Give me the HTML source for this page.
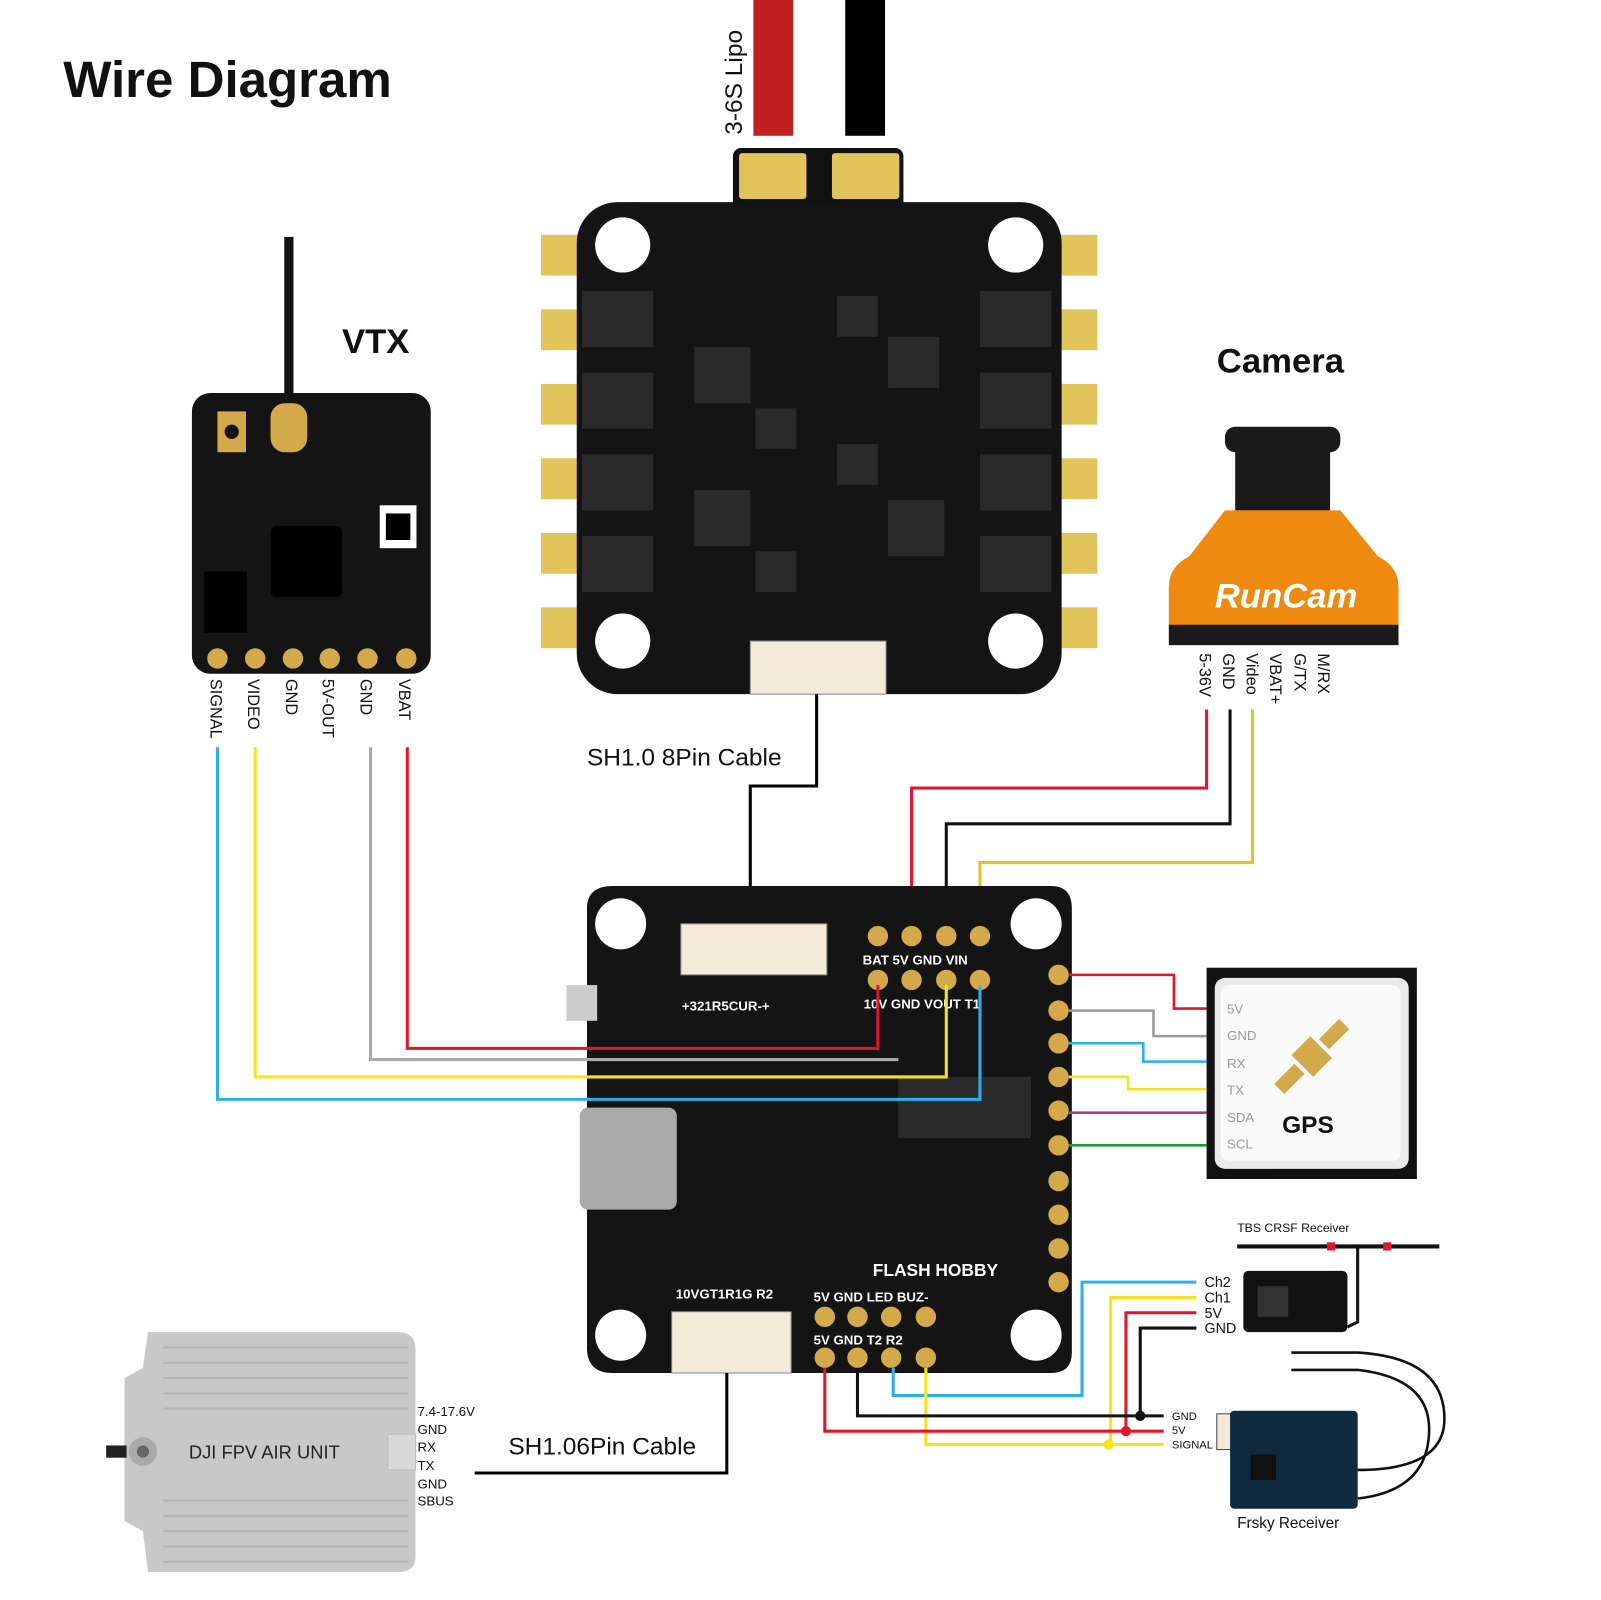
<!DOCTYPE html>
<html><head><meta charset="utf-8"><style>
html,body{margin:0;padding:0;background:#fff}
svg{display:block}
text{font-family:"Liberation Sans",sans-serif}
</style></head><body>
<svg width="1601" height="1600" viewBox="0 0 1601 1600" xmlns="http://www.w3.org/2000/svg">
<rect width="1601" height="1600" fill="#fff"/>
<g transform="scale(1.0208)">
<text x="62" y="95" font-size="50" font-weight="bold" fill="#111">Wire Diagram</text>

<!-- Lipo -->
<rect x="738" y="0" width="39" height="133" fill="#c0201f"/>
<rect x="828" y="0" width="39" height="133" fill="#000"/>
<text transform="translate(727,132) rotate(-90)" font-size="24" fill="#111">3-6S Lipo</text>

<!-- ESC -->
<rect x="718" y="145" width="167" height="70" rx="8" fill="#111"/>
<rect x="724" y="150" width="66" height="45" rx="3" fill="#e3c45a"/>
<rect x="815" y="150" width="66" height="45" rx="3" fill="#e3c45a"/>
<g fill="#e3c45a">
<rect x="530" y="230" width="40" height="40"/><rect x="530" y="303" width="40" height="40"/><rect x="530" y="376" width="40" height="40"/><rect x="530" y="449" width="40" height="40"/><rect x="530" y="522" width="40" height="40"/><rect x="530" y="595" width="40" height="40"/>
<rect x="1035" y="230" width="40" height="40"/><rect x="1035" y="303" width="40" height="40"/><rect x="1035" y="376" width="40" height="40"/><rect x="1035" y="449" width="40" height="40"/><rect x="1035" y="522" width="40" height="40"/><rect x="1035" y="595" width="40" height="40"/>
</g>
<rect x="565" y="198" width="475" height="482" rx="40" fill="#141414"/>
<g fill="#fff"><circle cx="610" cy="240" r="27"/><circle cx="995" cy="240" r="27"/><circle cx="610" cy="628" r="27"/><circle cx="995" cy="628" r="27"/></g>
<g fill="#2a2a2a">
<rect x="570" y="285" width="70" height="55"/><rect x="570" y="365" width="70" height="55"/><rect x="570" y="445" width="70" height="55"/><rect x="570" y="525" width="70" height="55"/>
<rect x="960" y="285" width="70" height="55"/><rect x="960" y="365" width="70" height="55"/><rect x="960" y="445" width="70" height="55"/><rect x="960" y="525" width="70" height="55"/>
<rect x="680" y="340" width="55" height="55"/><rect x="870" y="330" width="50" height="50"/><rect x="680" y="480" width="55" height="55"/><rect x="870" y="490" width="55" height="55"/>
<rect x="740" y="400" width="40" height="40"/><rect x="820" y="290" width="40" height="40"/><rect x="820" y="435" width="40" height="40"/><rect x="740" y="540" width="40" height="40"/>
</g>
<rect x="735" y="628" width="133" height="52" fill="#f3ead8" stroke="#888"/>
<text x="575" y="750" font-size="24" fill="#111">SH1.0 8Pin Cable</text>
<polyline points="800,680 800,770 735,770 735,912" fill="none" stroke="#000" stroke-width="3"/>

<!-- VTX -->
<line x1="283" y1="232" x2="283" y2="400" stroke="#111" stroke-width="9"/>
<text x="335" y="346" font-size="34" font-weight="bold" fill="#111">VTX</text>
<rect x="188" y="385" width="234" height="275" rx="18" fill="#141414"/>
<rect x="265" y="395" width="36" height="48" rx="14" fill="#d4a94a"/>
<rect x="213" y="403" width="28" height="40" fill="#d4a94a"/><circle cx="227" cy="423" r="7" fill="#141414"/>
<rect x="265" y="515" width="70" height="70" rx="6" fill="#000"/>
<rect x="200" y="560" width="42" height="60" fill="#000"/>
<rect x="372" y="495" width="36" height="42" fill="#fff"/><rect x="378" y="503" width="24" height="26" fill="#000"/>
<g fill="#d4a94a"><circle cx="213" cy="645" r="10"/><circle cx="250" cy="645" r="10"/><circle cx="287" cy="645" r="10"/><circle cx="323" cy="645" r="10"/><circle cx="360" cy="645" r="10"/><circle cx="398" cy="645" r="10"/></g>
<g font-size="16" fill="#111">
<text transform="translate(206,665) rotate(90)">SIGNAL</text>
<text transform="translate(243,665) rotate(90)">VIDEO</text>
<text transform="translate(280,665) rotate(90)">GND</text>
<text transform="translate(316,665) rotate(90)">5V-OUT</text>
<text transform="translate(353,665) rotate(90)">GND</text>
<text transform="translate(391,665) rotate(90)">VBAT</text>
</g>

<!-- Camera -->
<text x="1192" y="365" font-size="34" font-weight="bold" fill="#111">Camera</text>
<rect x="1200" y="418" width="113" height="25" rx="10" fill="#1a1a1a"/>
<rect x="1210" y="440" width="93" height="60" fill="#1a1a1a"/>
<path d="M1200 500 L1313 500 L1350 545 Q1370 555 1370 575 L1370 615 L1145 615 L1145 575 Q1145 555 1165 545 Z" fill="#ee8a10"/>
<rect x="1145" y="612" width="225" height="20" fill="#1a1a1a"/>
<text x="1190" y="595" font-size="34" font-style="italic" font-weight="bold" fill="#fff" font-family="Liberation Serif,serif">RunCam</text>
<g font-size="16" fill="#111">
<text transform="translate(1175,640) rotate(90)">5-36V</text>
<text transform="translate(1198,640) rotate(90)">GND</text>
<text transform="translate(1221,640) rotate(90)">Video</text>
<text transform="translate(1244,640) rotate(90)">VBAT+</text>
<text transform="translate(1268,640) rotate(90)">G/TX</text>
<text transform="translate(1291,640) rotate(90)">M/RX</text>
</g>
<g fill="none" stroke-width="3">
<polyline points="1182,695 1182,772 893,772 893,912" stroke="#e0162b"/>
<polyline points="1205,695 1205,807 927,807 927,912" stroke="#111"/>
<polyline points="1227,695 1227,845 960,845 960,912" stroke="#e6c02a"/>
</g>

<!-- FC -->
<path d="M600 868 L1030 868 Q1050 868 1050 890 L1050 1325 Q1050 1345 1030 1345 L600 1345 Q575 1345 575 1320 L575 890 Q575 868 600 868 Z" fill="#141414"/>
<g fill="#fff"><circle cx="608" cy="905" r="25"/><circle cx="1015" cy="905" r="25"/><circle cx="608" cy="1308" r="25"/><circle cx="1015" cy="1308" r="25"/></g>
<rect x="667" y="905" width="143" height="50" fill="#f3ead8" stroke="#888"/>
<rect x="658" y="1285" width="117" height="60" fill="#f3ead8" stroke="#888"/>
<rect x="568" y="1085" width="95" height="100" rx="8" fill="#aaa"/>
<rect x="555" y="965" width="30" height="35" fill="#ccc"/>
<rect x="880" y="1055" width="130" height="60" fill="#2a2a2a"/>
<g fill="#d4a94a">
<circle cx="860" cy="917" r="10"/><circle cx="893" cy="917" r="10"/><circle cx="927" cy="917" r="10"/><circle cx="960" cy="917" r="10"/>
<circle cx="860" cy="960" r="10"/><circle cx="893" cy="960" r="10"/><circle cx="927" cy="960" r="10"/><circle cx="960" cy="960" r="10"/>
<circle cx="808" cy="1290" r="10"/><circle cx="840" cy="1290" r="10"/><circle cx="873" cy="1290" r="10"/><circle cx="907" cy="1290" r="10"/>
<circle cx="808" cy="1330" r="10"/><circle cx="840" cy="1330" r="10"/><circle cx="873" cy="1330" r="10"/><circle cx="907" cy="1330" r="10"/>
<circle cx="1037" cy="955" r="10"/><circle cx="1037" cy="990" r="10"/><circle cx="1037" cy="1022" r="10"/><circle cx="1037" cy="1055" r="10"/><circle cx="1037" cy="1088" r="10"/><circle cx="1037" cy="1122" r="10"/><circle cx="1037" cy="1157" r="10"/><circle cx="1037" cy="1190" r="10"/><circle cx="1037" cy="1223" r="10"/><circle cx="1037" cy="1256" r="10"/>
</g>
<g font-size="13" fill="#fff" font-weight="bold">
<text x="845" y="945">BAT 5V GND VIN</text>
<text x="846" y="988">10V GND VOUT T1</text>
<text x="668" y="990">+321R5CUR-+</text>
<text x="797" y="1275">5V GND LED BUZ-</text>
<text x="797" y="1317">5V GND T2  R2</text>
<text x="662" y="1272">10VGT1R1G R2</text>
<text x="855" y="1250" font-size="17">FLASH HOBBY</text>
</g>

<!-- VTX wires -->
<g fill="none" stroke-width="3">
<polyline points="213,732 213,1077 960,1077 960,965" stroke="#2cb0ea"/>
<polyline points="250,732 250,1055 927,1055 927,965" stroke="#f7e31c"/>
<polyline points="363,732 363,1038 880,1038" stroke="#aaa"/>
<polyline points="399,732 399,1027 860,1027 860,965" stroke="#e0162b"/>
</g>

<!-- GPS -->
<rect x="1182" y="948" width="206" height="207" fill="#111"/>
<rect x="1190" y="958" width="190" height="187" rx="10" fill="#eaeaea"/>
<rect x="1196" y="965" width="176" height="172" rx="8" fill="#fafafa"/>
<g font-size="13" fill="#999">
<text x="1202" y="993">5V</text><text x="1202" y="1019">GND</text><text x="1202" y="1046">RX</text><text x="1202" y="1072">TX</text><text x="1202" y="1099">SDA</text><text x="1202" y="1125">SCL</text>
</g>
<text x="1256" y="1110" font-size="24" font-weight="bold" fill="#111">GPS</text>
<g fill="#d4a94a" transform="rotate(-45 1285 1035)"><rect x="1272" y="1020" width="26" height="30"/><rect x="1240" y="1028" width="28" height="14"/><rect x="1302" y="1028" width="28" height="14"/></g>
<g fill="none" stroke-width="2.5">
<polyline points="1047,955 1150,955 1150,988 1182,988" stroke="#e0162b"/>
<polyline points="1047,990 1130,990 1130,1015 1182,1015" stroke="#999"/>
<polyline points="1047,1022 1120,1022 1120,1040 1182,1040" stroke="#2cb0ea"/>
<polyline points="1047,1055 1105,1055 1105,1067 1182,1067" stroke="#f7e31c"/>
<polyline points="1047,1090 1182,1090" stroke="#b03a8a"/>
<polyline points="1047,1122 1182,1122" stroke="#1a9a3a"/>
</g>

<!-- TBS -->
<text x="1212" y="1207" font-size="12" fill="#111">TBS CRSF Receiver</text>
<line x1="1212" y1="1221" x2="1410" y2="1221" stroke="#111" stroke-width="4"/>
<rect x="1300" y="1217" width="8" height="8" fill="#e0162b"/><rect x="1355" y="1217" width="8" height="8" fill="#e0162b"/>
<path d="M1330 1221 L1330 1295 L1320 1300" stroke="#111" stroke-width="3" fill="none"/>
<rect x="1218" y="1245" width="102" height="60" rx="5" fill="#111"/>
<rect x="1232" y="1260" width="30" height="30" fill="#333"/>
<g font-size="14" fill="#111"><text x="1180" y="1261">Ch2</text><text x="1180" y="1276">Ch1</text><text x="1180" y="1291">5V</text><text x="1180" y="1306">GND</text></g>
<g fill="none" stroke-width="3">
<polyline points="1172,1256 1060,1256 1060,1367 875,1367 875,1340" stroke="#2cb0ea"/>
<polyline points="1172,1271 1088,1271 1088,1415 907,1415 907,1340" stroke="#f7e31c"/>
<polyline points="1172,1286 1103,1286 1103,1402 808,1402 808,1340" stroke="#e0162b"/>
<polyline points="1172,1301 1117,1301 1117,1387 840,1387 840,1340" stroke="#111"/>
<line x1="1117" y1="1387" x2="1140" y2="1387" stroke="#111"/>
<line x1="1103" y1="1402" x2="1140" y2="1402" stroke="#e0162b"/>
<line x1="1086" y1="1415" x2="1140" y2="1415" stroke="#f7e31c"/>
</g>
<circle cx="1117" cy="1387" r="5" fill="#111"/><circle cx="1103" cy="1402" r="5" fill="#e0162b"/><circle cx="1086" cy="1415" r="5" fill="#f7e31c"/>
<g font-size="11" fill="#111"><text x="1148" y="1391">GND</text><text x="1148" y="1405">5V</text><text x="1148" y="1419">SIGNAL</text></g>

<!-- Frsky -->
<g fill="none" stroke="#111" stroke-width="2.5">
<path d="M1265 1325 L1330 1325 Q1415 1330 1415 1390 Q1415 1440 1330 1440"/>
<path d="M1265 1342 L1330 1342 Q1400 1350 1400 1400 Q1400 1460 1330 1468"/>
</g>
<rect x="1192" y="1385" width="20" height="35" fill="#f3ead8" stroke="#444"/>
<rect x="1205" y="1382" width="125" height="96" rx="4" fill="#0f2a3e"/>
<rect x="1225" y="1425" width="25" height="25" fill="#111"/>
<text x="1212" y="1497" font-size="15" fill="#111">Frsky Receiver</text>

<!-- DJI -->
<path d="M145 1305 L390 1305 Q407 1305 407 1322 L407 1525 Q407 1540 390 1540 L145 1540 L140 1500 L122 1490 L122 1350 L140 1340 Z" fill="#c8c8c8"/>
<g stroke="#b4b4b4" stroke-width="2">
<line x1="160" y1="1320" x2="400" y2="1320"/><line x1="160" y1="1335" x2="400" y2="1335"/><line x1="160" y1="1350" x2="400" y2="1350"/><line x1="160" y1="1365" x2="400" y2="1365"/><line x1="160" y1="1380" x2="400" y2="1380"/>
<line x1="160" y1="1470" x2="400" y2="1470"/><line x1="160" y1="1485" x2="400" y2="1485"/><line x1="160" y1="1500" x2="400" y2="1500"/><line x1="160" y1="1515" x2="400" y2="1515"/><line x1="160" y1="1530" x2="400" y2="1530"/>
</g>
<circle cx="140" cy="1422" r="14" fill="#aaa"/><circle cx="140" cy="1422" r="6" fill="#666"/>
<rect x="104" y="1416" width="20" height="12" fill="#222"/>
<rect x="380" y="1405" width="27" height="35" fill="#d8d8d8" stroke="#bbb"/>
<text x="185" y="1429" font-size="18" fill="#222">DJI FPV AIR UNIT</text>
<g font-size="13" fill="#111">
<text x="409" y="1387">7.4-17.6V</text><text x="409" y="1405">GND</text><text x="409" y="1422">RX</text><text x="409" y="1440">TX</text><text x="409" y="1458">GND</text><text x="409" y="1475">SBUS</text>
</g>
<text x="498" y="1425" font-size="24" fill="#111">SH1.06Pin Cable</text>
<polyline points="465,1443 712,1443 712,1345" fill="none" stroke="#000" stroke-width="3"/>
</g>
</svg>
</body></html>
